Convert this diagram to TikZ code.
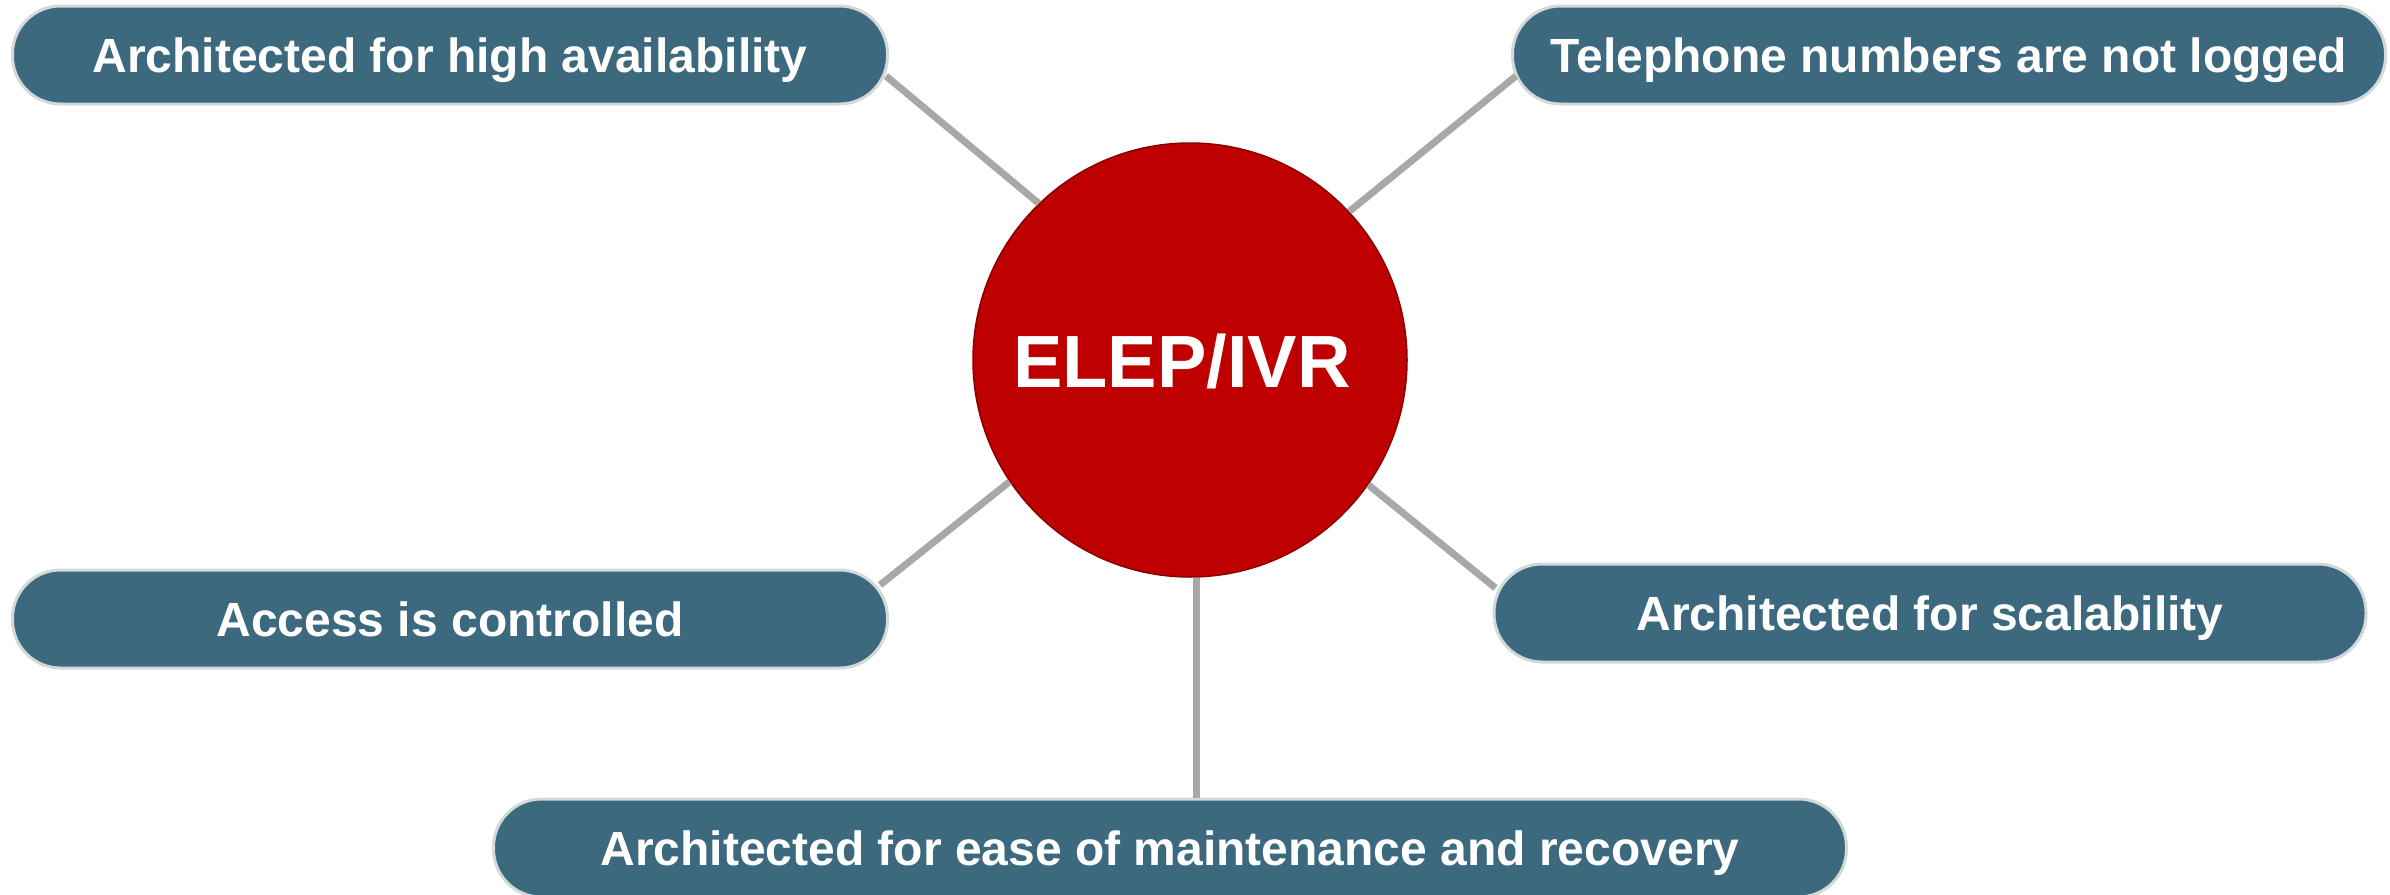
\documentclass[tikz,border=0pt]{standalone}
\usepackage{fontspec}
\setmainfont{Liberation Sans}
\usetikzlibrary{calc}
\definecolor{boxfill}{HTML}{3C697D}
\definecolor{boxedge}{HTML}{D3D8DB}
\definecolor{hubfill}{HTML}{BE0000}
\definecolor{hubedge}{HTML}{8A0000}
\definecolor{linkgray}{HTML}{A8A8A8}
\begin{document}
\begin{tikzpicture}[x=1pt,y=-1pt,
  pill/.style={draw=boxedge, line width=3pt, fill=boxfill, rounded corners=48pt,
    minimum height=98pt, inner sep=0pt, text=white, text height=35pt, text depth=0pt,
    font=\fontsize{48}{58}\selectfont\bfseries},
  hub/.style={circle, draw=hubedge, line width=1.5pt, fill=hubfill, minimum size=434pt,
    inner sep=0pt},
  hubtext/.style={text=white, font=\fontsize{74}{88}\selectfont\bfseries},
  link/.style={draw=linkgray, line width=7pt}]
\useasboundingbox (0,0) rectangle (2390,894);
\node[hub] (c) at (1190,360) {};
\node[hubtext] (ct) at (1182,361) {ELEP/IVR};
\node[pill, minimum width=875pt] (tl) at (450,55) {Architected for high availability};
\node[pill, minimum width=873pt] (tr) at (1949,55) {Telephone numbers are not logged};
\node[pill, minimum width=875pt] (ml) at (450,619) {Access is controlled};
\node[pill, minimum width=872pt] (mr) at (1930,613) {Architected for scalability};
\node[pill, minimum width=1353pt] (bt) at (1170,848) {Architected for ease of maintenance and recovery};
\draw[link] ($(tl.east)+(-3,21)$) -- (c.134.6);
\draw[link] ($(tr.west)+(5,21)$) -- (c.43.7);
\draw[link] ($(ml.east)+(-9,-34)$) -- (c.214);
\draw[link] ($(mr.west)+(3,-25)$) -- (c.325.5);
\draw[link] ($(c.south)+(6,0)$) -- ($(bt.north)+(26,0)$);
\end{tikzpicture}
\end{document}
